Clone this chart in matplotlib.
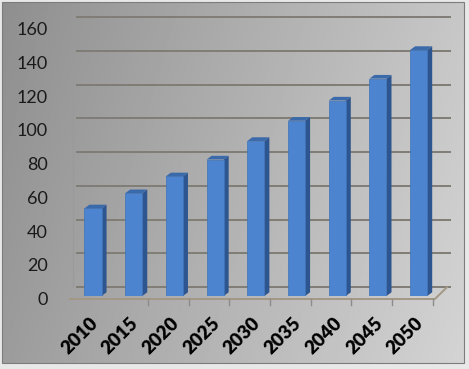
import matplotlib

matplotlib.use("Agg")
import matplotlib.pyplot as plt
import matplotlib.transforms as mtransforms
import numpy as np
from matplotlib.patches import Polygon, Rectangle

years = ["2010", "2015", "2020", "2025", "2030", "2035", "2040", "2045", "2050"]
values = [52, 61, 71, 81, 92, 104, 116, 129, 146]
y_ticks = [0, 20, 40, 60, 80, 100, 120, 140, 160]

W, H, DPI = 469, 369, 100
fig = plt.figure(figsize=(W / DPI, H / DPI), dpi=DPI)
fig.patch.set_facecolor("#e8e8e8")

# gradient backdrop + frame (pixel coordinates)
bg = fig.add_axes([0, 0, 1, 1])
bg.set_axis_off()
gx, gy = np.meshgrid(np.linspace(0, 1, 256), np.linspace(0, 1, 256))
shade = 0.56 + 0.22 * gx + 0.05 * gy
bg.imshow(shade, cmap="gray", vmin=0, vmax=1, extent=(2, 464, 363, 2), aspect="auto")
bg.add_patch(Rectangle((2, 2), 462, 361, fill=False, edgecolor="#7c7c7c", lw=0.8))
bg.set_xlim(0, W)
bg.set_ylim(H, 0)

# plot area: y=0 sits on the bar baseline, one category = 40.7 px
ax = fig.add_axes([70 / W, (H - 296) / H, 380 / W, 269.6 / H])
ax.set_xlim(-0.565, 8.77)
ax.set_ylim(0, 160)
ax.set_axis_off()
ax.patch.set_alpha(0)

px_x = 1 / 40.7          # data units per pixel, x
px_y = 160 / 269.6       # data units per pixel, y
wall_dx, wall_dy = 7 * px_x, 9 * px_y
floor_dy = -3 * px_y

# back wall gridlines and edges
for v in y_ticks:
    ax.plot([-0.565 + wall_dx, 8.6 + wall_dx], [v + wall_dy, v + wall_dy],
            color="#807c76", lw=1.4, zorder=1, clip_on=False)
ax.plot([-0.565 + 3 * px_x, -0.565 + 3 * px_x], [wall_dy, 160 + wall_dy],
        color="#9a9a9a", lw=0.8, zorder=1, clip_on=False)

# floor edge
floor_x = [-0.565, 8.40, 8.70]
floor_y = [floor_dy, floor_dy, wall_dy]
ax.plot(floor_x, floor_y, color="#a39885", lw=1.4, zorder=2, clip_on=False)
for i in range(1, len(years)):
    tx = i + 0.35
    ax.plot([tx, tx], [floor_dy, floor_dy - 6 * px_y], color="#8c8c8c", lw=1.0,
            zorder=2, clip_on=False)

# pseudo 3D columns
bw = 0.42
ddx, ddy = 5 * px_x, 3.7 * px_y
x = np.arange(len(years))
ax.bar(x, values, width=bw, color="#4d84cf", edgecolor="#3f72b8", lw=0.5, zorder=4)
for xi, v in zip(x, values):
    r = xi + bw / 2
    l = xi - bw / 2
    ax.add_patch(Polygon([(r, 0), (r + ddx, ddy), (r + ddx, v + ddy), (r, v)],
                         closed=True, facecolor="#2d5690", edgecolor="none", zorder=3))
    ax.add_patch(Polygon([(l, v), (r, v), (r + ddx, v + ddy), (l + ddx, v + ddy)],
                         closed=True, facecolor="#3b6aab", edgecolor="none", zorder=5))

# value labels on the left
ylab_tr = mtransforms.offset_copy(ax.get_yaxis_transform(), fig=fig, y=-4, units="dots")
for v in y_ticks:
    ax.text(-22 / 380, v, str(v), transform=ylab_tr, ha="right", va="center",
            fontsize=13, family="Lato", color="#1a1a1a")

# rotated year labels
xlab_tr = mtransforms.offset_copy(ax.transData, fig=fig, x=-4, y=-18, units="dots")
for xi, yr in zip(x, years):
    ax.text(xi, 0, yr, transform=xlab_tr, rotation=45, ha="right", va="top",
            rotation_mode="anchor", fontsize=13.5, fontweight="heavy", family="Lato",
            color="black")

fig.savefig("out.png", dpi=DPI)
